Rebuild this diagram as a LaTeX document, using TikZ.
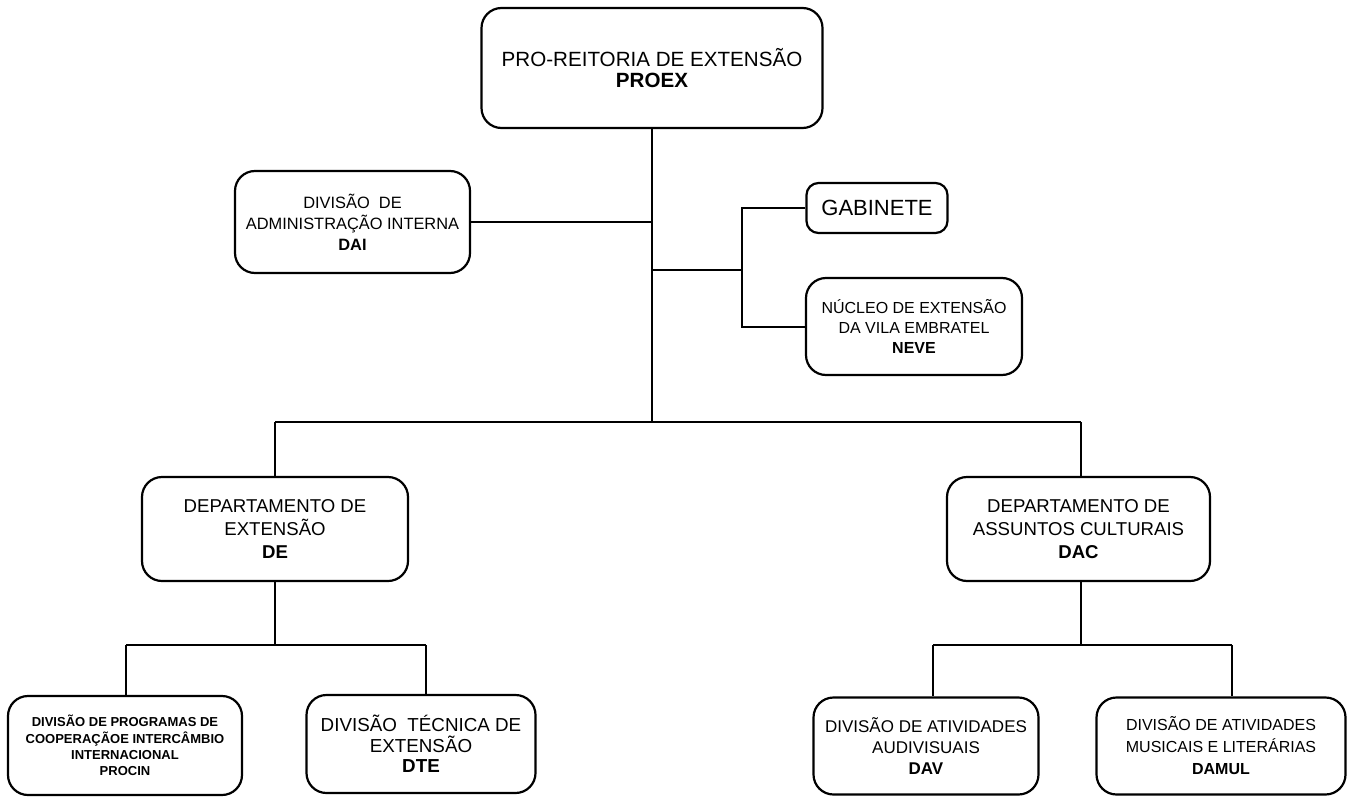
\documentclass[tikz,border=0pt]{standalone}
\usepackage{fontspec}
\setmainfont{Liberation Sans}
\begin{document}
\begin{tikzpicture}[x=0.5pt,y=-0.5pt,
  box/.style={draw, line width=1.1pt, rounded corners=10pt, align=center, inner sep=0pt},
  conn/.style={line width=1pt}]
\useasboundingbox (0,0) rectangle (1353,797);
% boxes
\node[box, minimum width=170.5pt, minimum height=60pt, font=\fontsize{10.3}{10.5}\selectfont] (proex) at (652,68)
  {PRO-REITORIA DE EXTENSÃO\\\textbf{PROEX}};
\node[box, minimum width=117.5pt, minimum height=51pt, font=\fontsize{8.2}{10.5}\selectfont] (dai) at (352.5,222)
  {DIVISÃO\ \ DE\\ADMINISTRAÇÃO INTERNA\\\textbf{DAI}};
\node[box, rounded corners=6pt, minimum width=70.5pt, minimum height=25pt, font=\fontsize{11}{12}\selectfont] (gab) at (877,208)
  {GABINETE};
\node[box, minimum width=108pt, minimum height=48.5pt, font=\fontsize{8}{10}\selectfont] (neve) at (914,326.5)
  {NÚCLEO DE EXTENSÃO\\DA VILA EMBRATEL\\\textbf{NEVE}};
\node[box, minimum width=133pt, minimum height=52pt, font=\fontsize{9.3}{11.5}\selectfont] (de) at (275,529)
  {DEPARTAMENTO DE\\EXTENSÃO\\\textbf{DE}};
\node[box, minimum width=131.5pt, minimum height=52pt, font=\fontsize{9.3}{11.5}\selectfont] (dac) at (1078.5,529)
  {DEPARTAMENTO DE\\ASSUNTOS CULTURAIS\\\textbf{DAC}};
\node[box, minimum width=117pt, minimum height=49.5pt, font=\bfseries\fontsize{6.5}{8.2}\selectfont] (procin) at (125,745.5)
  {DIVISÃO DE PROGRAMAS DE\\COOPERAÇÃOE INTERCÂMBIO\\INTERNACIONAL\\PROCIN};
\node[box, minimum width=114.5pt, minimum height=49pt, font=\fontsize{9.4}{10.2}\selectfont] (dte) at (421,744)
  {DIVISÃO\ \ TÉCNICA DE\\EXTENSÃO\\\textbf{DTE}};
\node[box, minimum width=112.5pt, minimum height=48.5pt, font=\fontsize{8.5}{10.5}\selectfont] (dav) at (926,746)
  {DIVISÃO DE ATIVIDADES\\AUDIVISUAIS\\\textbf{DAV}};
\node[box, minimum width=124.5pt, minimum height=48.5pt, font=\fontsize{8}{11}\selectfont] (damul) at (1221,746)
  {DIVISÃO DE ATIVIDADES\\MUSICAIS E LITERÁRIAS\\\textbf{DAMUL}};
% junction coordinates
\coordinate (hub) at (652,422);
\coordinate (gabJ) at (652,270);
\coordinate (gv) at (742,270);
\coordinate (busL) at (275,422);
\coordinate (busR) at (1081,422);
\coordinate (deJ) at (275,645);
\coordinate (deL) at (126,645);
\coordinate (deR) at (426,645);
\coordinate (dacJ) at (1081,645);
\coordinate (dacL) at (933,645);
\coordinate (dacR) at (1232,645);
% connectors
\draw[conn] (proex.south) -- (hub);
\draw[conn] (dai.east) -- (dai.east -| hub);
\draw[conn] (gabJ) -- (gv);
\draw[conn] (gab.west) -| (gv) |- (neve.west);
\draw[conn] (busL) -- (busR);
\draw[conn] (busL) -- (de.north);
\draw[conn] (busR) -- (busR |- dac.north);
\draw[conn] (de.south) -- (deJ);
\draw[conn] (deL) -- (deR);
\draw[conn] (deL) -- (deL |- procin.north);
\draw[conn] (deR) -- (deR |- dte.north);
\draw[conn] (dac.south -| dacJ) -- (dacJ);
\draw[conn] (dacL) -- (dacR);
\draw[conn] (dacL) -- (dacL |- dav.north);
\draw[conn] (dacR) -- (dacR |- damul.north);
\end{tikzpicture}
\end{document}
